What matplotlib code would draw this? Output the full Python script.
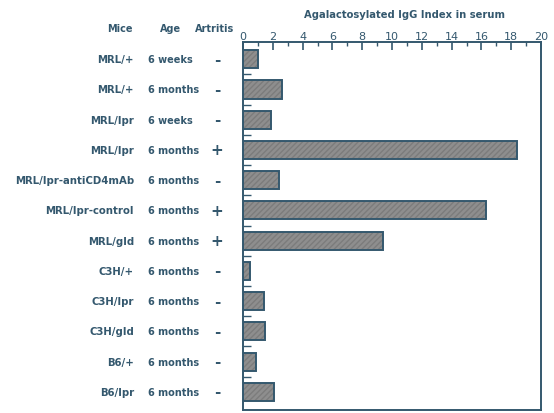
import matplotlib.pyplot as plt
import matplotlib.transforms as mtransforms

mice = ["MRL/+", "MRL/+", "MRL/lpr", "MRL/lpr", "MRL/lpr-antiCD4mAb", "MRL/lpr-control",
        "MRL/gld", "C3H/+", "C3H/lpr", "C3H/gld", "B6/+", "B6/lpr"]
age = ["6 weeks", "6 months", "6 weeks", "6 months", "6 months", "6 months",
       "6 months", "6 months", "6 months", "6 months", "6 months", "6 months"]
arthritis = ["-", "-", "-", "+", "-", "+", "+", "-", "-", "-", "-", "-"]
index_vals = [1.0, 2.6, 1.85, 18.4, 2.4, 16.3, 9.4, 0.5, 1.4, 1.5, 0.9, 2.1]

ink = "#34586e"
fill = "#8e8e8e"

W, H = 554, 414
fig = plt.figure(figsize=(W / 100, H / 100), dpi=100)
ax = fig.add_axes([243 / W, 1 - 411 / H, (541 - 243) / W, (411 - 43) / H])

rows = list(range(len(mice)))
ax.barh(rows, index_vals, height=0.6, color=fill, edgecolor="#7c7c7c",
        hatch="//////", linewidth=0)
ax.barh(rows, index_vals, height=0.6, fill=False, edgecolor=ink, linewidth=1.4)

ax.set_xlim(0, 20)
ax.set_ylim(11.6, -0.57)

ax.xaxis.tick_top()
ax.set_xticks(range(0, 21, 2))
ax.set_xticks(range(1, 20, 2), minor=True)
ax.tick_params(axis="x", which="major", direction="in", length=6, width=1.2,
               color=ink, labelcolor=ink, labelsize=8, pad=1)
ax.tick_params(axis="x", which="minor", direction="in", length=3, width=1.0, color=ink)
ax.set_yticks([r + 0.5 for r in rows[:-1]])
ax.set_yticklabels([])
ax.tick_params(axis="y", direction="in", length=6, width=1.0, color=ink)
for s in ax.spines.values():
    s.set_color(ink)
    s.set_linewidth(1.4)

fig.text(404 / W, 1 - 15 / H, "Agalactosylated IgG Index in serum",
         ha="center", va="center", fontsize=7.2, color=ink, fontweight="bold")

fig.text(120 / W, 1 - 29 / H, "Mice", ha="center", va="center", fontsize=7,
         color=ink, fontweight="bold")
fig.text(171 / W, 1 - 29 / H, "Age", ha="center", va="center", fontsize=7,
         color=ink, fontweight="bold")
fig.text(215 / W, 1 - 29 / H, "Artritis", ha="center", va="center", fontsize=7,
         color=ink, fontweight="bold")

tr = mtransforms.blended_transform_factory(fig.transFigure, ax.transData)
for r in rows:
    fig.text(134 / W, r, mice[r], transform=tr, ha="right", va="center",
             fontsize=7.3, color=ink, fontweight="bold")
    fig.text(148 / W, r, age[r], transform=tr, ha="left", va="center",
             fontsize=7, color=ink, fontweight="bold")
    fig.text(217 / W, r, arthritis[r], transform=tr, ha="center", va="center",
             fontsize=11, color=ink, fontweight="bold")

fig.savefig("out.png", dpi=100)
